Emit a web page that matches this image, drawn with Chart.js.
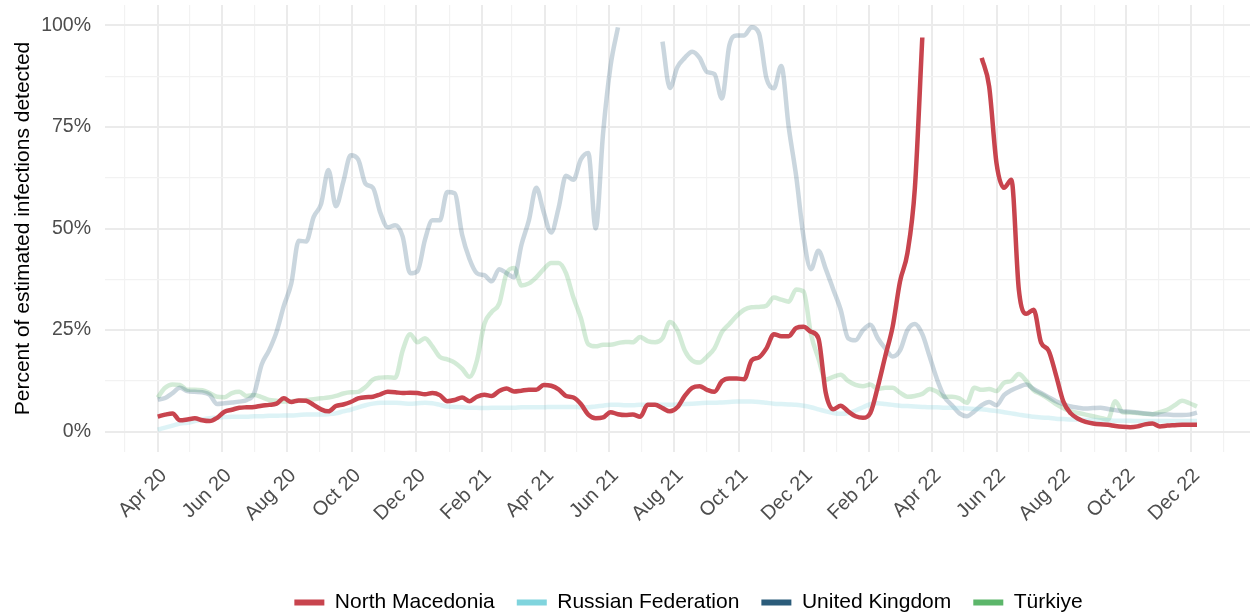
<!DOCTYPE html>
<html>
<head>
<meta charset="utf-8">
<script src="https://cdn.jsdelivr.net/npm/chart.js@4.4.0/dist/chart.umd.min.js"></script>
<style>
  html, body { margin: 0; padding: 0; background: #fff; }
</style>
</head>
<body>
<canvas id="chart" width="1252" height="615"></canvas>
<script>
// one point per week, first one on 1 Apr 2020 (values in percent)
const startDate = Date.UTC(2020, 3, 1);
const seriesNames = ['North Macedonia', 'Russian Federation', 'United Kingdom', 'Türkiye'];

const northMacedonia = [
  3.7, 4.2, 4.5, 2.8, 3.0, 3.3, 2.8, 2.6, 3.4, 4.9,
  5.4, 5.9, 6.0, 6.1, 6.4, 6.6, 6.9, 8.2, 7.3, 7.7,
  7.6, 6.6, 5.5, 5.0, 6.3, 6.7, 7.3, 8.2, 8.5, 8.6,
  9.2, 9.8, 9.7, 9.5, 9.6, 9.5, 9.2, 9.5, 9.0, 7.5,
  7.8, 8.4, 7.5, 8.6, 9.1, 8.8, 10.0, 10.6, 9.9, 10.1,
  10.3, 10.3, 11.5, 11.3, 10.4, 8.8, 8.4, 6.8, 4.2, 3.3,
  3.5, 4.8, 4.3, 4.1, 4.2, 3.7, 6.6, 6.6, 5.8, 5.0,
  6.0, 8.8, 10.8, 11.2, 10.3, 9.8, 12.4, 13.1, 13.1, 12.9,
  17.5, 18.3, 20.5, 24.0, 23.5, 23.5, 25.5, 25.8, 24.6, 23.0,
  9.5, 5.5, 6.4, 5.0, 3.8, 3.4, 4.6, 11.0, 18.5, 25.8,
  37, 44, 60, 97, null, null, null, null, null, null,
  null, 92, 85, 66, 60, 62, 35, 29, 30, 21.9,
  20, 14, 7.4, 4.5, 3.2, 2.4, 2.0, 1.8, 1.7, 1.4,
  1.2, 1.1, 1.3, 1.8, 2.0, 1.3, 1.5, 1.6, 1.7, 1.7, 1.7
];

const russianFederation = [
  0.5, 1.0, 1.5, 2.0, 2.2, 2.6, 3.0, 3.3, 3.5, 3.6,
  3.7, 3.7, 3.7, 3.8, 3.8, 3.9, 3.9, 4.0, 4.0, 4.1,
  4.2, 4.2, 4.2, 4.3, 4.5, 5.0, 5.4, 6.0, 6.5, 6.9,
  7.1, 7.1, 7.1, 7.0, 6.9, 7.0, 7.1, 7.0, 6.6, 6.2,
  6.1, 6.0, 5.9, 5.9, 5.8, 5.9, 5.9, 5.9, 5.9, 6.0,
  6.0, 6.0, 6.0, 6.1, 6.1, 6.1, 6.1, 6.0, 6.0, 6.2,
  6.4, 6.6, 6.6, 6.5, 6.5, 6.6, 6.6, 6.6, 6.6, 6.6,
  6.7, 6.8, 6.9, 7.0, 7.1, 7.1, 7.2, 7.3, 7.4, 7.4,
  7.4, 7.3, 7.1, 6.9, 6.8, 6.7, 6.6, 6.4, 6.0, 5.5,
  5.0, 4.6, 4.4, 4.6, 5.2, 6.0, 6.8, 7.0, 6.8, 6.6,
  6.4, 6.3, 6.2, 6.1, 6.0, 6.0, 5.9, 5.9, 5.8, 5.7,
  5.6, 5.5, 5.3, 5.1, 4.8, 4.5, 4.2, 3.9, 3.7, 3.5,
  3.4, 3.2, 3.1, 3.0, 3.0, 2.9, 2.9, 2.8, 2.8, 2.7,
  2.7, 2.7, 2.6, 2.6, 2.6, 2.6, 2.6, 2.6, 2.6, 2.6, 2.6
];

const unitedKingdom = [
  7.9, 8.3, 9.5, 10.8, 10.0, 9.8, 9.7, 9.1, 6.8, 7.0,
  7.2, 7.4, 7.8, 9.5, 16.5, 20, 24.5, 31, 36.5, 47,
  46.8, 52.8, 56, 64.4, 55.5, 61.5, 68, 67, 61, 60,
  53.8, 50.3, 50.8, 48, 39, 39.5, 47.2, 52, 52, 59,
  58.7, 48.5, 42.5, 39, 38.5, 37, 40, 39, 38, 46,
  52, 60, 54, 49, 55, 63, 62, 67, 68.6, 50,
  73.5, 90, 99.5, null, null, null, null, null, 96, 84.6,
  89.7, 92, 93.5, 92, 88.5, 88, 82, 95, 97.5, 97.5,
  99.5, 98, 87, 84.5, 90, 75, 63, 48, 40, 44.5,
  40, 35, 30, 23, 22.5, 25, 26.3, 23, 20.5, 18.5,
  20, 25, 26.5, 24, 18.4, 12.8, 8.5, 6.5, 4.5, 3.8,
  5, 6.5, 7.3, 6.5, 9, 10.2, 11, 11.6, 10.5, 9.5,
  8.5, 7.5, 6.8, 6.2, 5.9, 5.7, 5.8, 5.9, 5.6, 5.3,
  5.0, 4.9, 4.7, 4.5, 4.3, 4.2, 4.2, 4.1, 4.1, 4.2, 4.7
];

const turkiye = [
  8.4, 10.8, 11.6, 11.5, 10.3, 10.3, 10.2, 9.5, 8.6, 8.5,
  9.5, 9.8, 8.8, 9.0, 8.5, 7.8, 7.6, 7.4, 7.5, 7.6,
  7.8, 8.0, 8.2, 8.4, 8.8, 9.4, 9.7, 9.8, 11, 12.8,
  13.3, 13.4, 13.3, 20, 24, 22, 23, 21, 18.4, 17.8,
  17, 15.5, 13.5, 17.5, 26.5, 29.5, 31.5, 39, 40.3, 36,
  36.5, 38, 40, 41.5, 41.5, 39, 33, 28, 21.5, 21,
  21.4, 21.4, 21.8, 22.1, 22, 23.3, 22.3, 22, 23, 27,
  25, 20, 17.5, 17, 18.5, 20.5, 24.5, 26.5, 28.5, 30,
  30.6, 30.7, 31, 33, 32.5, 32, 35, 34.5, 24, 18,
  12.8, 13.5, 14, 12.5, 11.5, 11.2, 11.6, 10.5, 10.8, 10.8,
  9.6, 8.6, 8.8, 9.3, 10.5, 9.8, 8.6, 8.6, 8.2, 7.1,
  10.8, 10.3, 10.5, 10, 12, 12.5, 14.2, 12.5, 10.2, 9.2,
  8.1, 6.8, 5.8, 5.0, 4.6, 4.2, 3.8, 3.4, 3.0, 7.5,
  4.8, 4.7, 4.6, 4.4, 4.3, 4.8, 5.4, 6.5, 7.6, 7.0, 6.2
];

const yTicks = [0, 12.5, 25, 37.5, 50, 62.5, 75, 87.5, 100];
const monthAbbr = ['Jan', 'Feb', 'Mar', 'Apr', 'May', 'Jun', 'Jul', 'Aug', 'Sep', 'Oct', 'Nov', 'Dec'];

const lineColors = ['#C8444E', 'rgba(128, 212, 221, 0.27)', 'rgba(43, 92, 122, 0.25)', 'rgba(92, 182, 106, 0.27)'];
const legendColors = ['#C8444E', '#80D4DD', '#2B5C7A', '#5CB66A'];

const FONT = "'Liberation Sans', Arial, sans-serif";

// month gridlines from Mar 2020 to Jan 2023, every other one labelled
const monthTicks = [];
for (let i = 0; i <= 34; i++) {
  const d = new Date(Date.UTC(2020, 2 + i, 1));
  const m = d.getUTCMonth();
  const major = m % 2 === 1;
  monthTicks.push({
    day: (d.getTime() - startDate) / 864e5,
    major: major,
    label: major ? monthAbbr[m] + ' ' + String(d.getUTCFullYear()).slice(2) : ''
  });
}

function toPoints(values) {
  return values.map((v, i) => ({ x: i * 7, y: v }));
}

const allSeries = [northMacedonia, russianFederation, unitedKingdom, turkiye];

// ggplot centres the legend under the panel, not the whole canvas
const legendShift = {
  id: 'legendShift',
  afterLayout(chart) {
    const a = chart.chartArea;
    const dx = (a.left + a.right) / 2 - chart.width / 2 + 12;
    chart.legend.left += dx;
    chart.legend.right += dx;
  }
};

new Chart(document.getElementById('chart'), {
  type: 'line',
  data: {
    datasets: allSeries.map((vals, i) => ({
      label: seriesNames[i],
      data: toPoints(vals),
      borderColor: lineColors[i],
      backgroundColor: lineColors[i],
      borderWidth: 4.5,
      pointRadius: 0,
      cubicInterpolationMode: 'monotone',
      borderJoinStyle: 'round',
      spanGaps: false
    }))
  },
  options: {
    responsive: false,
    animation: false,
    devicePixelRatio: 1,
    layout: { padding: { top: 5, right: 2, left: 0, bottom: -8 } },
    plugins: {
      tooltip: { enabled: false },
      legend: {
        position: 'bottom',
        labels: {
          boxWidth: 30,
          boxHeight: 6,
          padding: 22,
          color: '#000',
          font: { family: FONT, size: 21 },
          generateLabels: chart => chart.data.datasets.map((ds, i) => ({
            text: ds.label,
            fillStyle: legendColors[i],
            strokeStyle: legendColors[i],
            lineWidth: 0,
            hidden: false,
            datasetIndex: i
          }))
        }
      }
    },
    scales: {
      x: {
        type: 'linear',
        min: -49.7,
        max: 1030,
        afterBuildTicks: s => { s.ticks = monthTicks.map(t => ({ value: t.day })); },
        afterFit: s => {
          const lh = s.chart.legend ? s.chart.legend.height : 0;
          s.height = Math.max(0, 615 + 8 - 452 - lh);
          s.paddingLeft = 0;
          s.paddingRight = 0;
        },
        ticks: {
          autoSkip: false,
          maxRotation: 45,
          minRotation: 45,
          padding: 12,
          labelOffset: 6,
          color: '#4D4D4D',
          font: { family: FONT, size: 20 },
          callback: (v, i) => monthTicks[i] ? monthTicks[i].label : ''
        },
        grid: {
          drawTicks: false,
          color: ctx => (monthTicks[ctx.index] && monthTicks[ctx.index].major) ? '#EBEBEB' : '#F2F2F2',
          lineWidth: ctx => (monthTicks[ctx.index] && monthTicks[ctx.index].major) ? 2 : 1.2
        },
        border: { display: false }
      },
      y: {
        min: -5,
        max: 105,
        afterBuildTicks: s => { s.ticks = yTicks.map(v => ({ value: v })); },
        afterFit: s => {
          s.width = 105;
          s.paddingTop = 0;
          s.paddingBottom = 0;
        },
        ticks: {
          padding: 14,
          color: '#4D4D4D',
          font: { family: FONT, size: 19.5 },
          callback: v => (v % 25 === 0 ? v + '%' : '')
        },
        title: {
          display: true,
          text: 'Percent of estimated infections detected',
          color: '#000',
          font: { family: FONT, size: 21 },
          padding: { top: 11, bottom: 0 }
        },
        grid: {
          drawTicks: false,
          color: ctx => (ctx.tick && ctx.tick.value % 25 === 0) ? '#EBEBEB' : '#F2F2F2',
          lineWidth: ctx => (ctx.tick && ctx.tick.value % 25 === 0) ? 2 : 1.2
        },
        border: { display: false }
      }
    }
  },
  plugins: [legendShift]
});
</script>
</body>
</html>
